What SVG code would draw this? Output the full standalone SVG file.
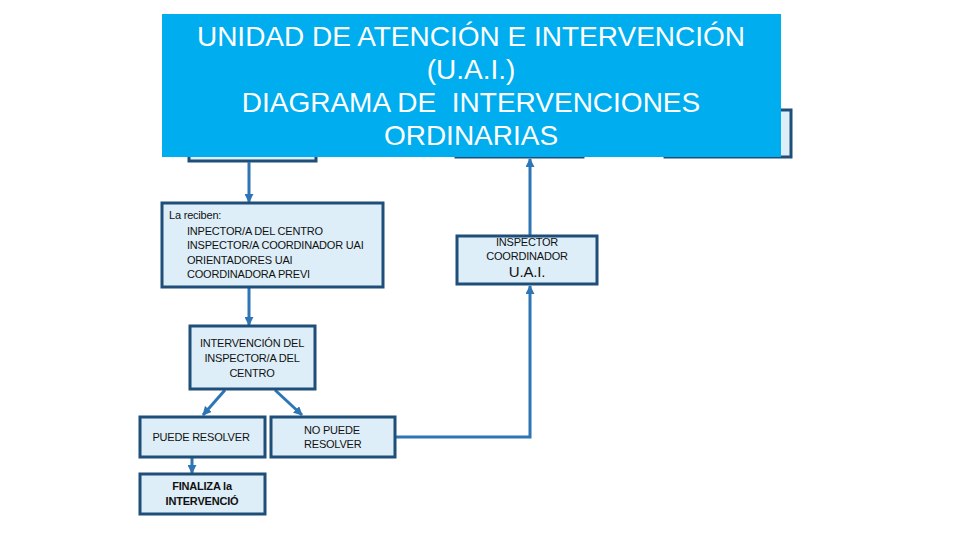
<svg xmlns="http://www.w3.org/2000/svg" width="960" height="540" viewBox="0 0 960 540">
<defs>
<style>
.box{fill:#DDEEF8;stroke:#1F4E79;stroke-width:3}
.hid{fill:#DDEEF8;stroke:#1F4E79;stroke-width:3}
.t{font-family:"Liberation Sans",Arial,sans-serif;font-size:11px;fill:#111;letter-spacing:-0.2px}
.c{text-anchor:middle}
.b{font-weight:bold}
.title{font-family:"Liberation Sans",Arial,sans-serif;font-size:28px;fill:#fff;text-anchor:middle;white-space:pre}
.con{stroke:#2E75B6;stroke-width:3;fill:none}
</style>
<marker id="ah" viewBox="0 0 10 10" refX="9" refY="5" markerWidth="3" markerHeight="3" orient="auto">
<path d="M0,0 L10,5 L0,10 z" fill="#2E75B6"/>
</marker>
</defs>
<rect width="960" height="540" fill="#fff"/>
<g id="hidden-left"><rect class="hid" x="189" y="110" width="127" height="51"/></g>
<g id="hidden-mid"><rect class="hid" x="456" y="110" width="127" height="47"/></g>
<g id="hidden-right"><rect class="hid" x="665" y="110" width="126" height="47"/></g>
<g id="title">
<rect x="162" y="14" width="619" height="143" fill="#00AEEF"/>
<text class="title" x="471" y="46">UNIDAD DE ATENCIÓN E INTERVENCIÓN</text>
<text class="title" x="471" y="79">(U.A.I.)</text>
<text class="title" x="471" y="112" xml:space="preserve">DIAGRAMA DE  INTERVENCIONES</text>
<text class="title" x="471" y="145">ORDINARIAS</text>
</g>
<g id="connectors">
<line class="con" x1="249" y1="162" x2="249" y2="202" marker-end="url(#ah)"/>
<line class="con" x1="249" y1="288" x2="249" y2="325" marker-end="url(#ah)"/>
<line class="con" x1="225" y1="390" x2="203" y2="415" marker-end="url(#ah)"/>
<line class="con" x1="275" y1="390" x2="302" y2="415" marker-end="url(#ah)"/>
<line class="con" x1="192" y1="458" x2="192" y2="473" marker-end="url(#ah)"/>
<polyline class="con" points="396,437 530,437 530,286" marker-end="url(#ah)"/>
<line class="con" x1="530" y1="235" x2="530" y2="159" marker-end="url(#ah)"/>
</g>
<g id="reciben">
<rect class="box" x="162" y="203" width="221" height="84"/>
<text class="t" x="169" y="219">La reciben:</text>
<text class="t" x="187" y="235">INPECTOR/A DEL CENTRO</text>
<text class="t" x="187" y="249">INSPECTOR/A COORDINADOR UAI</text>
<text class="t" x="187" y="264">ORIENTADORES UAI</text>
<text class="t" x="187" y="278">COORDINADORA PREVI</text>
</g>
<g id="intervencion">
<rect class="box" x="190" y="326" width="125" height="63"/>
<text class="t c" x="252" y="347">INTERVENCIÓN DEL</text>
<text class="t c" x="252" y="362">INSPECTOR/A DEL</text>
<text class="t c" x="252" y="377">CENTRO</text>
</g>
<g id="puede">
<rect class="box" x="140" y="417" width="125" height="40"/>
<text class="t c" x="201" y="441">PUEDE RESOLVER</text>
</g>
<g id="nopuede">
<rect class="box" x="271" y="417" width="124" height="40"/>
<text class="t" x="304" y="434">NO PUEDE</text>
<text class="t" x="304" y="448">RESOLVER</text>
</g>
<g id="finaliza">
<rect class="box" x="140" y="474" width="125" height="40"/>
<text class="t c b" x="202" y="490">FINALIZA la</text>
<text class="t c b" x="202" y="505">INTERVENCIÓ</text>
</g>
<g id="inspector">
<rect class="box" x="457" y="236" width="140" height="48"/>
<text class="t c" x="527" y="246">INSPECTOR</text>
<text class="t c" x="527" y="260">COORDINADOR</text>
<text class="t c" x="527" y="277" style="font-size:15px">U.A.I.</text>
</g>
</svg>
